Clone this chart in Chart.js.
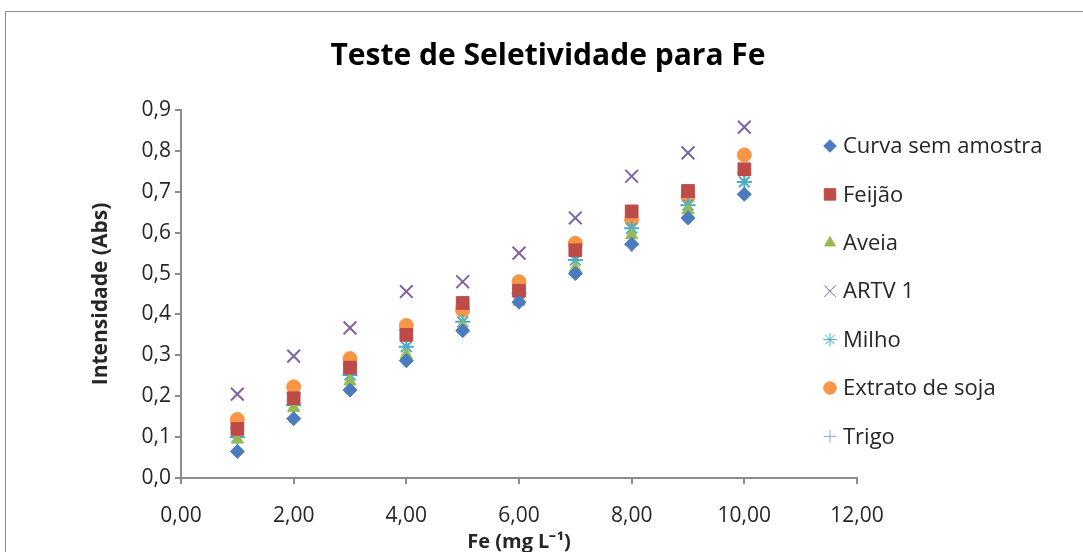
<!DOCTYPE html>
<html>
<head>
<meta charset="utf-8">
<script src="https://cdn.jsdelivr.net/npm/chart.js"></script>
<style>
  html, body { margin:0; padding:0; background:#fff; }
  #wrap { position:relative; width:1083px; height:552px; overflow:hidden; }
  #frame { position:absolute; left:5px; top:11px; width:1100px; height:600px; border:1px solid #8a8a8a; }
  canvas { position:absolute; left:0; top:0; }
</style>
</head>
<body>
<div id="wrap">
  <div id="frame"></div>
  <canvas id="c" width="1083" height="552"></canvas>
</div>
<script>
// Seletividade Fe: absorbance per sample matrix
const feValues = [1, 2, 3, 4, 5, 6, 7, 8, 9, 10];
const seriesNames = ['Curva sem amostra', 'Feijão', 'Aveia', 'ARTV 1', 'Milho', 'Extrato de soja', 'Trigo'];
const curva = [0.065, 0.145, 0.215, 0.287, 0.360, 0.430, 0.500, 0.572, 0.636, 0.694];
const feijao = [0.120, 0.195, 0.270, 0.350, 0.428, 0.458, 0.557, 0.652, 0.702, 0.755];
const aveia = [0.094, 0.171, 0.236, 0.301, 0.370, 0.431, 0.513, 0.594, 0.655, 0.749];
const artv = [0.205, 0.298, 0.367, 0.456, 0.480, 0.550, 0.636, 0.738, 0.795, 0.858];
const milho = [0.100, 0.178, 0.252, 0.321, 0.382, 0.452, 0.533, 0.611, 0.667, 0.724];
const soja = [0.143, 0.223, 0.292, 0.373, 0.410, 0.480, 0.574, 0.631, 0.688, 0.790];
const trigo = [0.122, 0.207, 0.276, 0.362, 0.419, 0.464, 0.566, 0.570, 0.684, 0.745];
const xTicks = [0, 2, 4, 6, 8, 10, 12];
const yTicks = [0, 0.1, 0.2, 0.3, 0.4, 0.5, 0.6, 0.7, 0.8, 0.9];

const FONT = '"Open Sans", sans-serif';
const TEXT = '#262626';
const styles = [
    { color: '#4a7bbf', style: 'rectRot', r: 7, bw: 1 },
    { color: '#be4b48', style: 'rect', r: 9, bw: 1 },
    { color: '#98b954', style: 'triangle', r: 7, bw: 1 },
    { color: '#7f63a1', style: 'crossRot', r: 9, bw: 2 },
    { color: '#4bacc6', style: 'star', r: 7.5, bw: 2 },
    { color: '#f79646', style: 'circle', r: 7, bw: 1 },
    { color: '#8eaadb', style: 'cross', r: 7, bw: 2 }
];
const allSeries = [curva, feijao, aveia, artv, milho, soja, trigo];

function pts(arr){ return arr.map((v, i) => ({ x: feValues[i], y: v })); }
function comma(v, d){ return Number(v).toFixed(d).replace('.', ','); }

const datasets = allSeries.map((s, i) => ({
    label: seriesNames[i],
    data: pts(s),
    pointStyle: styles[i].style,
    pointRadius: styles[i].r,
    pointBorderWidth: styles[i].bw,
    backgroundColor: styles[i].color,
    borderColor: styles[i].color,
    showLine: false
}));

// title + legend drawn by hand so placement matches the Excel original
const extras = {
    id: 'extras',
    afterDraw(chart){
        const ctx = chart.ctx;
        ctx.save();
        ctx.fillStyle = '#000';
        ctx.font = 'bold 30px ' + FONT;
        ctx.textAlign = 'center';
        ctx.textBaseline = 'alphabetic';
        ctx.fillText('Teste de Seletividade para Fe', 548, 65);

        ctx.font = '22px ' + FONT;
        ctx.textAlign = 'left';
        ctx.textBaseline = 'middle';
        chart.data.datasets.forEach((ds, i) => {
            const y = 146 + i * 48.4;
            const st = styles[i];
            ctx.fillStyle = st.color; ctx.strokeStyle = st.color;
            Chart.helpers.drawPoint(ctx, {
                pointStyle: st.style, radius: st.r * 0.9, borderWidth: st.bw, rotation: 0
            }, 830, y);
            ctx.fillStyle = TEXT;
            ctx.fillText(ds.label, 843, y + 1);
        });
        ctx.restore();
    }
};

new Chart(document.getElementById('c'), {
    type: 'scatter',
    data: { datasets: datasets },
    plugins: [extras],
    options: {
        responsive: false,
        animation: false,
        layout: { padding: { left: 78, right: 226, top: 110, bottom: 0 } },
        plugins: {
            legend: { display: false },
            tooltip: { enabled: false },
            title: { display: false }
        },
        scales: {
            x: {
                type: 'linear', min: 0, max: 12,
                afterBuildTicks: s => { s.ticks = xTicks.map(v => ({ value: v })); },
                afterFit: s => { s.height = 74; },
                grid: { drawOnChartArea: false, drawTicks: true, tickLength: 6, color: '#8c8c8c', lineWidth: 2 },
                border: { display: true, color: '#8c8c8c', width: 2 },
                ticks: { color: TEXT, padding: 19, font: { family: FONT, size: 21 }, callback: v => comma(v, 2) },
                title: { display: true, text: 'Fe (mg L⁻¹)', color: TEXT, font: { family: FONT, size: 20, weight: 'bold' }, padding: { top: 0, bottom: -2 } }
            },
            y: {
                type: 'linear', min: 0, max: 0.9,
                afterBuildTicks: s => { s.ticks = yTicks.map(v => ({ value: v })); },
                afterFit: s => { s.width = 181 - 78; },
                grid: { drawOnChartArea: false, drawTicks: true, tickLength: 6, color: '#8c8c8c', lineWidth: 2 },
                border: { display: true, color: '#8c8c8c', width: 2 },
                ticks: { color: TEXT, padding: 4, font: { family: FONT, size: 21 }, callback: v => comma(v, 1) },
                title: { display: true, text: 'Intensidade (Abs)', color: TEXT, font: { family: FONT, size: 21, weight: 'bold' }, padding: { top: 10, bottom: 0 } }
            }
        }
    }
});
</script>
</body>
</html>
